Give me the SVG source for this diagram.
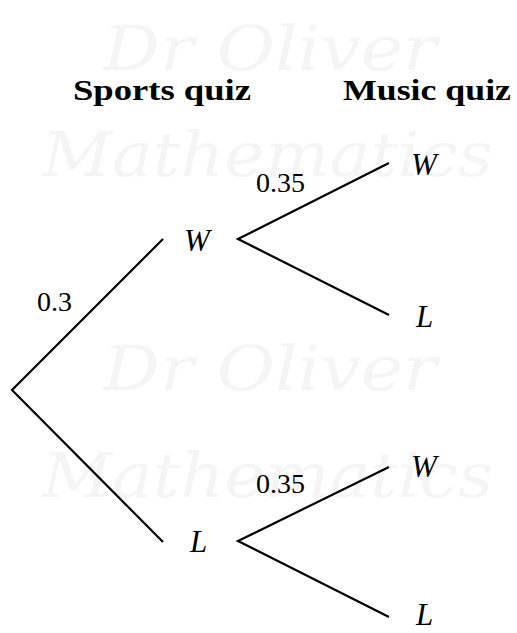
<svg xmlns="http://www.w3.org/2000/svg" width="517" height="633" viewBox="0 0 517 633">
<style>
.wm{font-family:"DejaVu Serif","Liberation Serif",serif;font-style:italic;fill:#f5f5f5;font-size:62px}
.hd{font-family:"Liberation Serif","DejaVu Serif",serif;font-weight:bold;font-size:29px;fill:#000}
.num{font-family:"Liberation Serif","DejaVu Serif",serif;font-size:28px;fill:#000}
.var{font-family:"Liberation Serif","DejaVu Serif",serif;font-style:italic;font-size:31px;fill:#000}
.br{stroke:#000;stroke-width:2.2;fill:none;stroke-linecap:butt}
</style>
<rect width="517" height="633" fill="#fff"/>
<g id="watermark">
<text class="wm" x="103" y="70" textLength="334" lengthAdjust="spacingAndGlyphs">Dr Oliver</text>
<text class="wm" x="42" y="176" textLength="451" lengthAdjust="spacingAndGlyphs">Mathematics</text>
<text class="wm" x="103" y="390" textLength="334" lengthAdjust="spacingAndGlyphs">Dr Oliver</text>
<text class="wm" x="42" y="497" textLength="451" lengthAdjust="spacingAndGlyphs">Mathematics</text>
</g>
<g id="headers">
<text class="hd" x="73" y="100" textLength="178" lengthAdjust="spacingAndGlyphs">Sports quiz</text>
<text class="hd" x="343" y="100" textLength="168" lengthAdjust="spacingAndGlyphs">Music quiz</text>
</g>
<g id="connectors">
<path class="br" d="M163,239 L12,390 L163,542"/>
<path class="br" d="M389,163 L238,239 L389,315"/>
<path class="br" d="M389,467 L238,541 L389,617"/>
</g>
<g id="label-0.3"><text class="num" x="37" y="311">0.3</text></g>
<g id="label-0.35-top"><text class="num" x="256" y="192">0.35</text></g>
<g id="label-0.35-bottom"><text class="num" x="256" y="493">0.35</text></g>
<g id="node-W1"><text class="var" x="184" y="251">W</text></g>
<g id="node-L1"><text class="var" x="190" y="552">L</text></g>
<g id="node-WW"><text class="var" x="411" y="175">W</text></g>
<g id="node-WL"><text class="var" x="416" y="327">L</text></g>
<g id="node-LW"><text class="var" x="411" y="477">W</text></g>
<g id="node-LL"><text class="var" x="416" y="625">L</text></g>
</svg>
